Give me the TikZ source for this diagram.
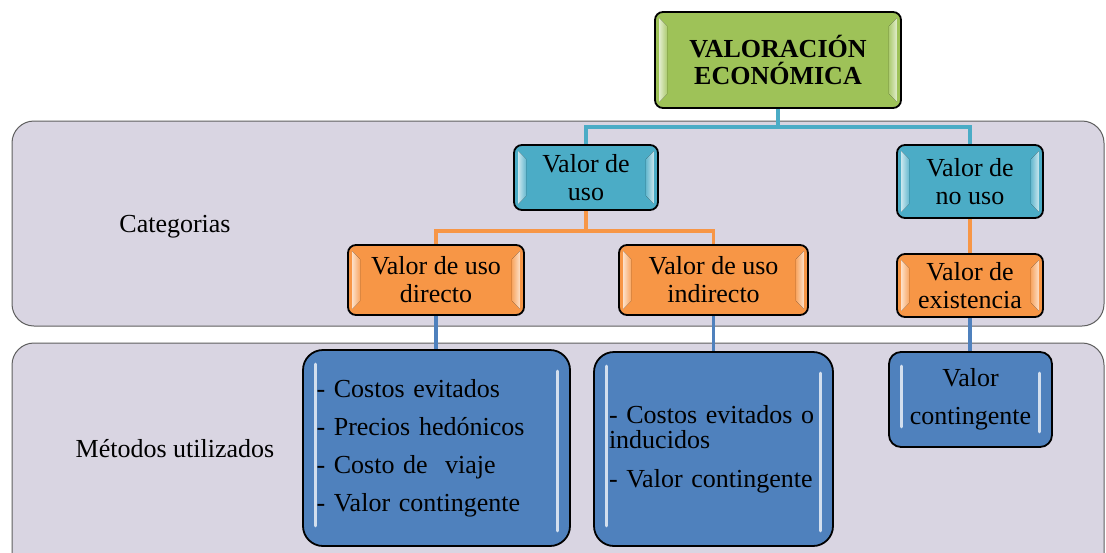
\documentclass[tikz,border=0pt]{standalone}
\usepackage{fontspec}
\setmainfont{Liberation Serif}
\usetikzlibrary{calc}
\definecolor{bandfill}{RGB}{217,213,226}
\definecolor{bandline}{RGB}{95,95,95}
\definecolor{grn}{RGB}{158,194,88}
\definecolor{cyn}{RGB}{75,172,198}
\definecolor{org}{RGB}{247,150,70}
\definecolor{blu}{RGB}{79,129,189}
\pgfdeclarelayer{bg}
\pgfdeclarelayer{mid}
\pgfsetlayers{bg,mid,main}
\tikzset{
  band/.style={draw=bandline, line width=1pt, fill=bandfill, rounded corners=22pt},
  box/.style={draw=black, line width=1.8pt, rounded corners=8pt, align=center, inner sep=0pt,
              font=\fontsize{26}{28}\selectfont},
  bluebox/.style={box, fill=blu, rounded corners=20pt},
  lbl/.style={anchor=base, font=\fontsize{26}{28}\selectfont},
  cline/.style={draw=cyn, line width=3.5pt},
  oline/.style={draw=org, line width=3.5pt},
  bline/.style={draw=blu, line width=3.5pt},
}
\newcommand\bevelbox[2]{%
  \fill[left color=#2!30!white, right color=#2!85!white]
    ([shift={(5,7)}]#1.north west) -- ([shift={(13,15)}]#1.north west) --
    ([shift={(13,-15)}]#1.south west) -- ([shift={(5,-7)}]#1.south west) -- cycle;
  \fill[right color=#2!30!white, left color=#2!85!white]
    ([shift={(-5,7)}]#1.north east) -- ([shift={(-13,15)}]#1.north east) --
    ([shift={(-13,-15)}]#1.south east) -- ([shift={(-5,-7)}]#1.south east) -- cycle;}
\newcommand\glowbox[1]{%
  \draw[line width=3pt, white!75!blu, line cap=round]
    ([shift={(13,15)}]#1.north west) -- ([shift={(13,-21)}]#1.south west);
  \draw[line width=3pt, white!75!blu, line cap=round]
    ([shift={(-13,22)}]#1.north east) -- ([shift={(-13,-16)}]#1.south east);}
\begin{document}
\begin{tikzpicture}[x=1pt,y=-1pt]
\useasboundingbox (0,0) rectangle (1106,552);
\begin{pgfonlayer}{bg}
  \clip (0,0) rectangle (1106,552);
  \fill[white] (0,0) rectangle (1106,552);
  \draw[band] (12,121) rectangle (1104,326);
  \draw[band] (12,343) rectangle (1104,600);
\end{pgfonlayer}

\node[lbl] (cat) at (175,232) {Categorias};
\node[lbl] (met) at (175,457) {Métodos utilizados};

\node[box, fill=grn, minimum width=246pt, minimum height=96pt,
      font=\bfseries\fontsize{26}{27}\selectfont] (top) at (778,60) {VALORACIÓN\\ECONÓMICA};

\node[box, fill=cyn, minimum width=144pt, minimum height=65pt] (uso) at (586,177.5) {Valor de\\uso};
\node[box, fill=cyn, minimum width=146pt, minimum height=73pt] (nouso) at (970,181.5) {Valor de\\no uso};

\node[box, fill=org, minimum width=176pt, minimum height=70pt] (dir) at (436,280) {Valor de uso\\directo};
\node[box, fill=org, minimum width=189pt, minimum height=70pt] (ind) at (713.5,280) {Valor de uso\\indirecto};
\node[box, fill=org, minimum width=146pt, minimum height=63pt] (exi) at (970,285.5) {Valor de\\existencia};

\node[bluebox, minimum width=267pt, minimum height=196pt, text width=240pt, align=left,
      font=\fontsize{26}{38}\selectfont] (m1) at (436.5,448)
  {- Costos evitados\\- Precios hedónicos\\- Costo de\ \ viaje\\- Valor contingente};
\node[bluebox, minimum width=239pt, minimum height=194pt, text width=209pt, align=left,
      font=\fontsize{26}{25}\selectfont] (m2) at (713.5,449)
  {- Costos evitados o\\inducidos\\[14pt]- Valor contingente};
\node[bluebox, rounded corners=12pt, minimum width=163pt, minimum height=95pt,
      font=\fontsize{26}{38}\selectfont] (m3) at (970.5,399.5) {Valor\\contingente};

\bevelbox{top}{grn}
\bevelbox{uso}{cyn}
\bevelbox{nouso}{cyn}
\bevelbox{dir}{org}
\bevelbox{ind}{org}
\bevelbox{exi}{org}
\glowbox{m1}
\glowbox{m2}
\glowbox{m3}

\begin{pgfonlayer}{mid}
  \draw[cline] (top.south) -- ++(0,18) -| (uso.north);
  \draw[cline] (top.south) -- ++(0,18) -| (nouso.north);
  \draw[oline] (uso.south) -- ++(0,20) -| (dir.north);
  \draw[oline] (uso.south) -- ++(0,20) -| (ind.north);
  \draw[oline] (nouso.south) -- (exi.north);
  \draw[bline] (dir.south) -- (dir.south |- m1.north);
  \draw[bline] (ind.south) -- (ind.south |- m2.north);
  \draw[bline] (exi.south) -- (exi.south |- m3.north);
\end{pgfonlayer}
\end{tikzpicture}
\end{document}
